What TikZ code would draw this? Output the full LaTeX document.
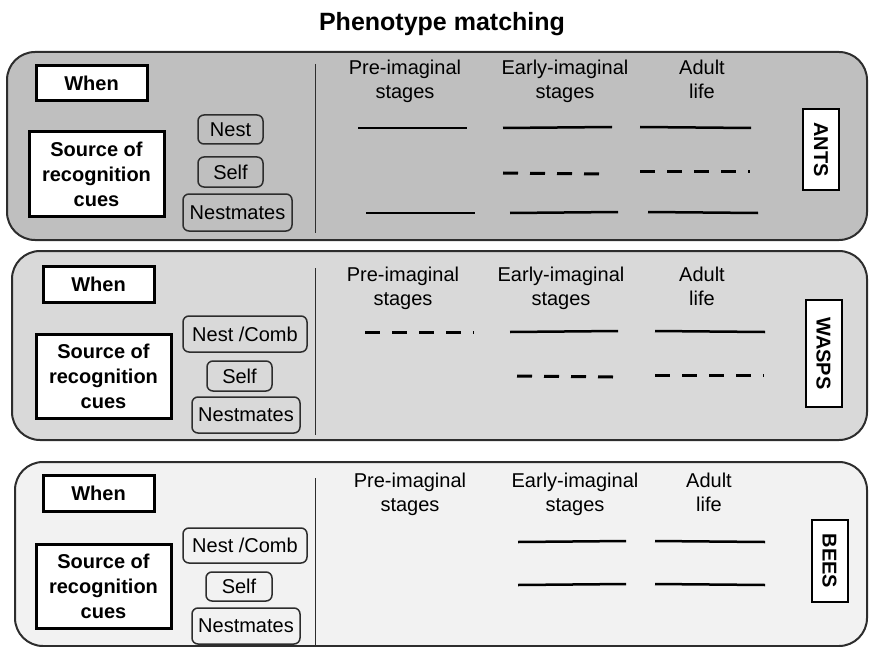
\documentclass[tikz,border=0pt]{standalone}
\usepackage{fontspec}
\setmainfont{Liberation Sans}
\usepackage{tikz}
\usetikzlibrary{positioning}
\definecolor{antsgray}{RGB}{191,191,191}
\definecolor{waspsgray}{RGB}{217,217,217}
\definecolor{beesgray}{RGB}{242,242,242}
\definecolor{edgegray}{RGB}{45,45,45}
\newcommand\figfont{\fontsize{20}{24}\selectfont}
\tikzset{
  panel/.style={draw=edgegray, line width=2pt, rounded corners=28pt},
  whenbox/.style={draw, fill=white, line width=3pt, minimum width=111pt, minimum height=35pt,
                  inner sep=0pt, font=\figfont\bfseries},
  srcbox/.style={draw, fill=white, line width=3pt, minimum width=135pt, minimum height=84pt,
                 inner sep=0pt, align=center, font=\fontsize{20}{25}\selectfont\bfseries},
  cuebox/.style={draw=edgegray, line width=1.5pt, rounded corners=6pt, minimum height=30pt,
                 inner sep=2pt, font=\figfont},
  taxon/.style={draw, fill=white, line width=2pt, rotate=-90, minimum height=36pt,
                inner sep=0pt, font=\figfont\bfseries},
  stagehd/.style={align=center, anchor=base, font=\figfont},
  divider/.style={line width=1pt, edgegray},
  cue/.style={line width=2.5pt},
  cuedash/.style={line width=3pt, dash pattern=on 15pt off 12pt}
}

\begin{document}
\begin{tikzpicture}[x=1pt, y=-1pt]
\useasboundingbox (0,0) rectangle (869,647);
\node[anchor=base, font=\fontsize{25}{30}\selectfont\bfseries] (title) at (442,31) {Phenotype matching};

\draw[panel, fill=antsgray] (7,52) rectangle (867,240);
\draw[panel, fill=waspsgray] (12,251) rectangle (867,440);
\draw[panel, fill=beesgray] (15,462) rectangle (867,646);

\node[whenbox] (antswhen) at (91.5,83.5) {When};
\node[srcbox] (antssrc) at (96.5,174) {Source of\\recognition\\cues};
\node[cuebox, minimum width=65pt, minimum height=29pt] (antsnest) at (230.5,129.5) {Nest};
\node[cuebox, minimum width=65pt] (antsself) at (230.5,172) {Self};
\node[cuebox, minimum width=109pt, minimum height=37pt] (antsmates) at (237.5,212.5) {Nestmates};
\draw[divider] (315,64) -- (315,233);
\node[stagehd] (antspre) at (405,99) {Pre-imaginal\\stages};
\node[stagehd] (antsearly) at (565,99) {Early-imaginal\\stages};
\node[stagehd] (antsadult) at (702,99) {Adult\\life};
\node[taxon, minimum width=81pt] (ants) at (821,149.5) {ANTS};
\draw[cue] (358,128) -- (467,128);
\draw[cue] (503,128) -- (612,127);
\draw[cue] (640,127) -- (751,128);
\draw[cuedash] (503,173) -- (600,174);
\draw[cuedash] (640,172) -- (750,172);
\draw[cue] (366,213) -- (475,213);
\draw[cue] (510,213) -- (618,212);
\draw[cue] (648,212) -- (758,213);

\node[whenbox, minimum height=36pt] (waspswhen) at (98.5,284) {When};
\node[srcbox] (waspssrc) at (103.5,376) {Source of\\recognition\\cues};
\node[cuebox, minimum width=124pt, minimum height=36pt] (waspsnest) at (245,334) {Nest /Comb};
\node[cuebox, minimum width=65pt] (waspsself) at (239.5,376) {Self};
\node[cuebox, minimum width=108pt, minimum height=36pt] (waspsmates) at (246,415) {Nestmates};
\draw[divider] (315,268) -- (315,435);
\node[stagehd] (waspspre) at (403,305) {Pre-imaginal\\stages};
\node[stagehd] (waspsearly) at (561,305) {Early-imaginal\\stages};
\node[stagehd] (waspsadult) at (702,305) {Adult\\life};
\node[taxon, minimum width=107pt] (wasps) at (823.5,353.5) {WASPS};
\draw[cuedash] (365,332) -- (474,332);
\draw[cue] (510,332) -- (618,331);
\draw[cue] (655,331) -- (765,332);
\draw[cuedash] (517,376) -- (613,377);
\draw[cuedash] (655,375) -- (764,375);

\node[whenbox, minimum height=36pt] (beeswhen) at (98.5,493) {When};
\node[srcbox] (beessrc) at (103.5,586) {Source of\\recognition\\cues};
\node[cuebox, minimum width=124pt, minimum height=35pt] (beesnest) at (245,545.5) {Nest /Comb};
\node[cuebox, minimum width=66pt, minimum height=29pt] (beesself) at (239,586.5) {Self};
\node[cuebox, minimum width=108pt, minimum height=36pt] (beesmates) at (246,626) {Nestmates};
\draw[divider] (315,478) -- (315,647);
\node[stagehd] (beespre) at (410,511) {Pre-imaginal\\stages};
\node[stagehd] (beesearly) at (575,511) {Early-imaginal\\stages};
\node[stagehd] (beesadult) at (709,511) {Adult\\life};
\node[taxon, minimum width=82pt] (bees) at (829.5,561) {BEES};
\draw[cue] (518,542) -- (626,541);
\draw[cue] (655,541) -- (765,542);
\draw[cue] (518,585) -- (626,584);
\draw[cue] (655,584) -- (765,585);
\end{tikzpicture}
\end{document}
